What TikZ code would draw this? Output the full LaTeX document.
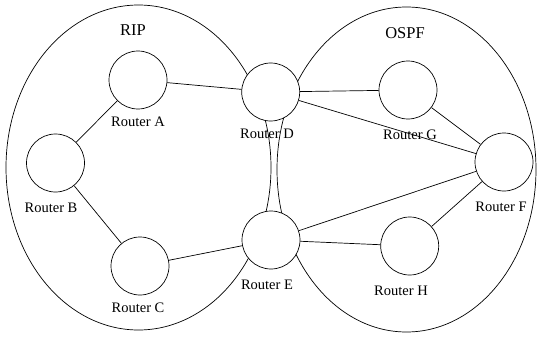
\documentclass[tikz,border=0pt]{standalone}
\usepackage{fontspec}
\setmainfont{Liberation Serif}
\usetikzlibrary{shapes.geometric}
\begin{document}
\begin{tikzpicture}[x=1pt,y=-1pt,line width=0.7pt,
  area/.style={ellipse,draw,inner sep=0pt},
  router/.style={circle,draw,fill=white,minimum size=58pt,inner sep=0pt},
  lbl/.style={font=\fontsize{14.5}{16}\selectfont,inner sep=0pt},
  ttl/.style={font=\fontsize{16.5}{18}\selectfont,inner sep=0pt}]
\useasboundingbox (0,0) rectangle (538,337);
\node[area,minimum width=265pt,minimum height=325pt] (rip) at (138.5,167.5) {};
\node[area,minimum width=259pt,minimum height=325pt] (ospf) at (406.5,169.5) {};
\node[ttl] (tRIP) at (133,30) {RIP};
\node[ttl] (tOSPF) at (405,33) {OSPF};
\node[router] (A) at (138,80) {};
\node[router] (B) at (55.5,163) {};
\node[router] (C) at (140,266) {};
\node[router] (D) at (270.7,92) {};
\node[router] (E) at (271,240) {};
\node[router] (G) at (408,90) {};
\node[router] (F) at (504,162) {};
\node[router] (H) at (409.7,246) {};
\draw (A) -- (D);
\draw (A) -- (B);
\draw (B) -- (C);
\draw (C) -- (E);
\draw (D) -- (G);
\draw (D) -- (F);
\draw (G) -- (F);
\draw (E) -- (F);
\draw (E) -- (H);
\draw (H) -- (F);
\node[lbl] (lA) at (138,122) {Router A};
\node[lbl] (lB) at (51,208) {Router B};
\node[lbl] (lC) at (138,308) {Router C};
\node[lbl] (lD) at (267,134) {Router D};
\node[lbl] (lE) at (267,285) {Router E};
\node[lbl] (lG) at (410,135) {Router G};
\node[lbl] (lF) at (501,207) {Router F};
\node[lbl] (lH) at (401,291) {Router H};
\end{tikzpicture}
\end{document}
